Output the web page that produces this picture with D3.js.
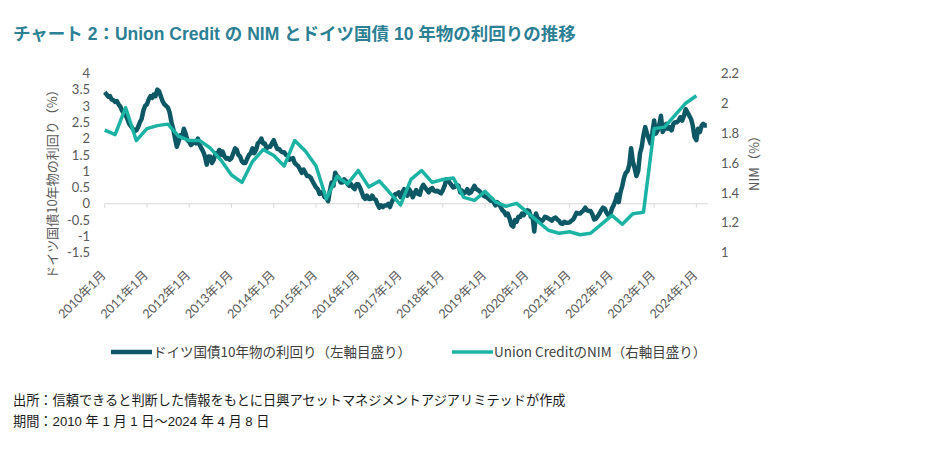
<!DOCTYPE html>
<html>
<head>
<meta charset="utf-8">
<script src="https://cdn.jsdelivr.net/npm/d3@7"></script>
<style>
  html, body { margin: 0; padding: 0; background: #ffffff; }
  svg { display: block; }
</style>
</head>
<body>
<svg id="chart" width="930" height="449"></svg>
<script>
// ---------- DATA ----------
const chartTitle = "チャート 2：Union Credit の NIM とドイツ国債 10 年物の利回りの推移";
const leftAxisTitle = "ドイツ国債10年物の利回り（%）";
const rightAxisTitle = "NIM（%）";
const seriesNames = ["ドイツ国債10年物の利回り（左軸目盛り）", "Union CreditのNIM（右軸目盛り）"];
const footnotes = ["出所：信頼できると判断した情報をもとに日興アセットマネジメントアジアリミテッドが作成",
                   "期間：2010 年 1 月 1 日～2024 年 4 月 8 日"];

const tickYears = [2010,2011,2012,2013,2014,2015,2016,2017,2018,2019,2020,2021,2022,2023,2024];
const tickLabels = ["2010年1月","2011年1月","2012年1月","2013年1月","2014年1月","2015年1月","2016年1月",
                    "2017年1月","2018年1月","2019年1月","2020年1月","2021年1月","2022年1月","2023年1月","2024年1月"];
const leftTicks = [4,3.5,3,2.5,2,1.5,1,0.5,0,-0.5,-1,-1.5];
const rightTicks = [2.2,2,1.8,1.6,1.4,1.2,1];
const startDate = "2010-01-01";
const endDate = "2024-04-08";

// German 10Y Bund yield (%), values on the 1st and 16th of each month
const bund2010 = [3.42,3.36,3.28,3.30,3.20,3.18,3.12,3.15,3.05,2.98,2.85,2.78,2.72,2.60,2.45,2.38,2.30,2.22,2.25,2.35,2.50,2.60,2.85,3.00];
const bund2011 = [3.05,3.20,3.30,3.25,3.35,3.30,3.50,3.45,3.30,3.15,3.05,3.00,2.95,2.80,2.50,2.30,2.00,1.75,1.90,2.10,2.05,2.30,2.15,1.95];
const bund2012 = [1.90,1.80,1.85,1.90,1.85,2.00,1.80,1.70,1.60,1.45,1.20,1.45,1.45,1.25,1.35,1.55,1.50,1.65,1.50,1.60,1.45,1.38,1.40,1.35];
const bund2013 = [1.40,1.55,1.70,1.65,1.50,1.45,1.30,1.25,1.25,1.38,1.50,1.55,1.70,1.55,1.65,1.85,1.90,2.00,1.85,1.85,1.70,1.75,1.75,1.85];
const bund2014 = [1.95,1.80,1.68,1.68,1.62,1.58,1.58,1.50,1.48,1.35,1.38,1.40,1.25,1.20,1.15,1.05,0.95,1.05,0.95,0.85,0.85,0.80,0.70,0.60];
const bund2015 = [0.50,0.45,0.30,0.35,0.35,0.20,0.18,0.08,0.40,0.65,0.55,0.95,0.85,0.80,0.65,0.65,0.75,0.70,0.60,0.55,0.60,0.50,0.45,0.60];
const bund2016 = [0.60,0.50,0.35,0.20,0.15,0.25,0.15,0.15,0.25,0.15,0.12,-0.02,-0.12,-0.05,-0.10,-0.05,-0.05,0.00,-0.10,0.05,0.15,0.30,0.30,0.35];
const bund2017 = [0.20,0.35,0.45,0.30,0.25,0.45,0.35,0.20,0.32,0.42,0.30,0.28,0.48,0.58,0.50,0.42,0.35,0.45,0.48,0.40,0.38,0.40,0.35,0.32];
const bund2018 = [0.42,0.55,0.75,0.72,0.65,0.58,0.50,0.52,0.58,0.55,0.35,0.40,0.32,0.35,0.45,0.32,0.35,0.45,0.55,0.45,0.42,0.38,0.32,0.25];
const bund2019 = [0.22,0.20,0.15,0.10,0.15,0.05,-0.05,0.05,0.00,-0.10,-0.20,-0.25,-0.35,-0.30,-0.45,-0.65,-0.70,-0.50,-0.55,-0.40,-0.40,-0.30,-0.35,-0.25];
const bund2020 = [-0.20,-0.22,-0.40,-0.40,-0.85,-0.30,-0.45,-0.48,-0.55,-0.50,-0.40,-0.42,-0.45,-0.48,-0.52,-0.45,-0.42,-0.48,-0.52,-0.60,-0.62,-0.55,-0.58,-0.58];
const bund2021 = [-0.57,-0.52,-0.48,-0.38,-0.28,-0.30,-0.30,-0.25,-0.20,-0.12,-0.20,-0.22,-0.22,-0.32,-0.48,-0.46,-0.38,-0.30,-0.20,-0.12,-0.15,-0.28,-0.35,-0.35];
const bund2022 = [-0.15,-0.05,0.10,0.28,0.05,0.35,0.55,0.80,0.95,1.00,1.20,1.70,1.30,1.10,0.85,1.00,1.55,1.75,2.10,2.35,2.15,2.00,1.85,2.15];
const bund2023 = [2.55,2.15,2.25,2.45,2.70,2.20,2.30,2.45,2.30,2.35,2.25,2.45,2.50,2.50,2.55,2.65,2.55,2.70,2.90,2.80,2.70,2.60,2.40,2.05];
const bund2024 = [1.95,2.30,2.20,2.40,2.45,2.40,2.40];
const bundByYear = [bund2010,bund2011,bund2012,bund2013,bund2014,bund2015,bund2016,bund2017,bund2018,bund2019,bund2020,bund2021,bund2022,bund2023,bund2024];

// Union Credit NIM (%), quarterly, starting January 2010
const nimValues = [1.82,1.79,1.97,1.75, 1.83,1.85,1.86,1.78, 1.75,1.75,1.70,1.62, 1.52,1.47,1.61,1.69,
                   1.65,1.58,1.75,1.68, 1.58,1.36,1.51,1.46, 1.55,1.44,1.48,1.40, 1.32,1.49,1.55,1.47,
                   1.49,1.50,1.37,1.35, 1.41,1.34,1.31,1.33, 1.27,1.21,1.15,1.13, 1.14,1.12,1.13,1.19,
                   1.25,1.19,1.26,1.27, 1.83,1.84,1.92,2.00, 2.05];

// ---------- BUILD ----------
const bundData = [];
bundByYear.forEach((vals, yi) => {
  vals.forEach((v, i) => {
    bundData.push({ date: new Date(tickYears[yi], Math.floor(i / 2), i % 2 ? 16 : 1), value: v });
  });
});
const nimData = nimValues.map((v, k) => ({ date: new Date(2010, 3 * k, 1), value: v }));

const colors = { bund: "#0e5865", nim: "#1bb3a4", title: "#2b8094", tick: "#595959", legend: "#404040" };
const cjk = "'Noto Sans CJK JP', 'Noto Sans', sans-serif";
const tickFont = "Lato, 'Noto Sans CJK JP', sans-serif";
const latin = "'Liberation Sans', 'Noto Sans CJK JP', sans-serif";

const svg = d3.select("#chart");
const plot = { left: 104.7, right: 707.7, top: 73.3, bottom: 252.7 };

const x = d3.scaleTime().domain([new Date(startDate + "T00:00:00"), new Date(endDate + "T00:00:00")]).range([plot.left, plot.right]);
const yL = d3.scaleLinear().domain([-1.5, 4]).range([plot.bottom, plot.top]);
const yR = d3.scaleLinear().domain([1, 2.2]).range([plot.bottom, plot.top]);

// Title
svg.append("text").attr("x", 13).attr("y", 40)
  .attr("font-family", latin).attr("font-weight", "bold").attr("font-size", 17.5)
  .attr("fill", colors.title).text(chartTitle);

// Left axis labels
svg.append("g").selectAll("text").data(leftTicks).join("text")
  .attr("x", 90).attr("y", d => yL(d)).attr("dy", "0.36em")
  .attr("text-anchor", "end").attr("font-family", tickFont).attr("font-size", 13)
  .attr("fill", colors.tick).text(d => d);

// Right axis labels
svg.append("g").selectAll("text").data(rightTicks).join("text")
  .attr("x", 721).attr("y", d => yR(d)).attr("dy", "0.36em")
  .attr("text-anchor", "start").attr("font-family", tickFont).attr("font-size", 13)
  .attr("fill", colors.tick).text(d => d);

// Axis titles
svg.append("text").attr("transform", `translate(52,181) rotate(-90)`)
  .attr("text-anchor", "middle").attr("dy", "0.35em")
  .attr("font-family", cjk).attr("font-size", 13).attr("fill", colors.tick).text(leftAxisTitle);
svg.append("text").attr("transform", `translate(754,160) rotate(-90)`)
  .attr("text-anchor", "middle").attr("dy", "0.35em")
  .attr("font-family", cjk).attr("font-size", 13).attr("fill", colors.tick).text(rightAxisTitle);

// Zero axis line with ticks
const tickDates = tickYears.map(y => new Date(y, 0, 1));
const axisG = svg.append("g").attr("transform", `translate(0,${yL(0)})`);
axisG.append("line").attr("x1", plot.left).attr("x2", plot.right).attr("y1", 0).attr("y2", 0)
  .attr("stroke", "#d9d9d9").attr("stroke-width", 1);
axisG.selectAll("line.tick").data(tickDates).join("line").attr("class", "tick")
  .attr("x1", d => x(d)).attr("x2", d => x(d)).attr("y1", 0).attr("y2", 4)
  .attr("stroke", "#d9d9d9").attr("stroke-width", 1);

// X labels (low position, rotated)
svg.append("g").selectAll("text").data(tickDates).join("text")
  .attr("transform", (d) => `translate(${x(d) + 2},276) rotate(-45)`)
  .attr("text-anchor", "end").attr("font-family", tickFont).attr("font-size", 12.5)
  .attr("fill", colors.tick).text((d, i) => tickLabels[i]);

// Lines
const lineL = d3.line().x(d => x(d.date)).y(d => yL(d.value));
const lineR = d3.line().x(d => x(d.date)).y(d => yR(d.value));
svg.append("path").datum(bundData).attr("d", lineL).attr("fill", "none")
  .attr("stroke", colors.bund).attr("stroke-width", 4.5).attr("stroke-linejoin", "round");
svg.append("path").datum(nimData).attr("d", lineR).attr("fill", "none")
  .attr("stroke", colors.nim).attr("stroke-width", 3.5).attr("stroke-linejoin", "round");

// Legend
const legendItems = [
  { x1: 111, x2: 152, color: colors.bund, w: 4.5, name: seriesNames[0] },
  { x1: 452, x2: 493, color: colors.nim, w: 3.5, name: seriesNames[1] }
];
const lg = svg.append("g");
legendItems.forEach(it => {
  lg.append("line").attr("x1", it.x1).attr("x2", it.x2).attr("y1", 352).attr("y2", 352)
    .attr("stroke", it.color).attr("stroke-width", it.w);
  lg.append("text").attr("x", it.x2 + 1).attr("y", 352).attr("dy", "0.35em")
    .attr("font-family", cjk).attr("font-size", 13.5).attr("fill", colors.legend).text(it.name);
});

// Footnotes
svg.append("g").selectAll("text").data(footnotes).join("text")
  .attr("x", 13).attr("y", (d, i) => 405 + i * 21)
  .attr("font-family", latin).attr("font-size", 13.2).attr("fill", "#1a1a1a").text(d => d);
</script>
</body>
</html>
